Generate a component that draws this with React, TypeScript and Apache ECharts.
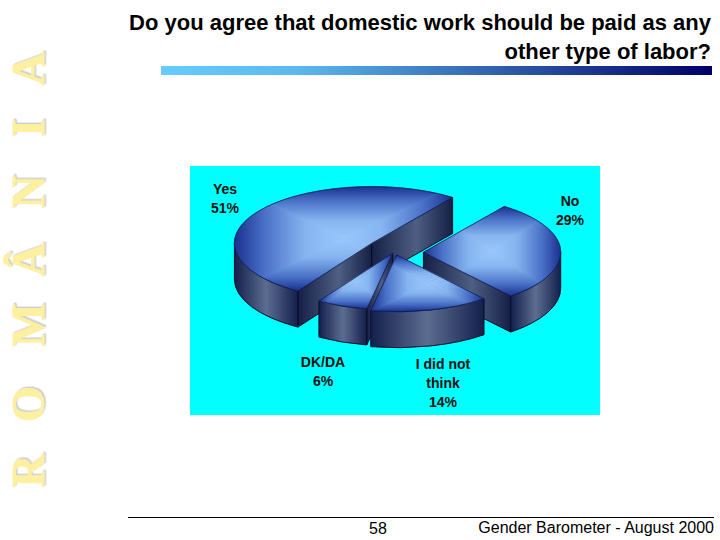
import React, { useEffect, useRef } from "react";
import * as echarts from "echarts";

const CATEGORIES = ["Yes", "No", "I did not\nthink", "DK/DA"];
const VALUES = [51, 29, 14, 6];
const TITLE_LINES = ["Do you agree that domestic work should be paid as any", "other type of labor?"];
const SIDE_LETTERS = ["R", "O", "M", "Â", "N", "I", "A"];
const PAGE_NUMBER = "58";
const FOOTER = "Gender Barometer - August 2000";

const DRAW_ORDER = [0, 1, 3, 2];
const SIDE_Y = [471, 404, 325, 260, 192, 128, 69];
const EXPLODE = [[0, 0], [51.7, 9], [25, 11.7], [21, 10]];
const LABEL_POS = [[225, 198.5], [570, 210.5], [443, 383], [323, 371.5]];
const CX = 371.7, CY = 243.3, RX = 137.3, RY = 56.7, DEPTH = 36, START = 212.5;
const TOTAL = VALUES.reduce((a, b) => a + b, 0);
const rad = (d: number) => (d * Math.PI) / 180;

const TOP_STOPS = [
  { offset: 0, color: "#9ac8fb" },
  { offset: 0.35, color: "#86b4f0" },
  { offset: 0.72, color: "#4a72c8" },
  { offset: 1, color: "#1a318f" },
];
const wallFill = () => new echarts.graphic.LinearGradient(0, 0, 1, 0, [
  { offset: 0, color: "#141f4c" },
  { offset: 0.5, color: "#5b6d90" },
  { offset: 1, color: "#141f4c" },
]);
const faceFill = () => new echarts.graphic.LinearGradient(0, 0, 1, 0, [
  { offset: 0, color: "#161f46" },
  { offset: 0.55, color: "#4d5f82" },
  { offset: 1, color: "#161f46" },
]);

type P = [number, number];
// Keep the part of a polygon on the inner side of the edge a -> b.
function clipEdge(poly: P[], a: P, b: P, inside: P): P[] {
  const side = (p: P) => (b[0] - a[0]) * (p[1] - a[1]) - (b[1] - a[1]) * (p[0] - a[0]);
  const sign = side(inside) >= 0 ? 1 : -1;
  const out: P[] = [];
  for (let i = 0; i < poly.length; i++) {
    const p = poly[i], q = poly[(i + 1) % poly.length];
    const sp = side(p) * sign, sq = side(q) * sign;
    if (sp >= 0) out.push(p);
    if (sp * sq < 0) {
      const t = sp / (sp - sq);
      out.push([p[0] + (q[0] - p[0]) * t, p[1] + (q[1] - p[1]) * t]);
    }
  }
  return out;
}

function renderItem(params: any, api: any) {
  const i = api.value(1);
  let before = 0;
  for (let k = 0; k < i; k++) before += VALUES[k];
  const a0 = START + (before / TOTAL) * 360;
  const a1 = a0 + (api.value(0) / TOTAL) * 360;
  const cx = CX + EXPLODE[i][0], cy = CY + EXPLODE[i][1];
  const px = (t: number) => cx + RX * Math.sin(rad(t));
  const py = (t: number) => cy - RY * Math.cos(rad(t));
  const n = (v: number) => v.toFixed(2);
  const children: any[] = [];
  const line = { stroke: "#070c28", lineWidth: 1 };

  const face = (t: number) => {
    const d = `M${n(cx)} ${n(cy)}L${n(px(t))} ${n(py(t))}L${n(px(t))} ${n(py(t) + DEPTH)}L${n(cx)} ${n(cy + DEPTH)}Z`;
    children.push({ type: "path", shape: { pathData: d }, style: { fill: faceFill(), ...line } });
  };
  if (Math.sin(rad(a0)) < 0) face(a0);
  if (Math.sin(rad(a1)) > 0) face(a1);

  for (const base of [0, 360]) {
    const w0 = Math.max(a0, base + 90), w1 = Math.min(a1, base + 270);
    if (w1 > w0) {
      const d = `M${n(px(w0))} ${n(py(w0))}A${RX} ${RY} 0 0 1 ${n(px(w1))} ${n(py(w1))}` +
        `L${n(px(w1))} ${n(py(w1) + DEPTH)}A${RX} ${RY} 0 0 0 ${n(px(w0))} ${n(py(w0) + DEPTH)}Z`;
      children.push({ type: "path", shape: { pathData: d }, style: { fill: wallFill(), ...line } });
    }
  }

  // Top of the slice: a rectangular "path" gradient, built as four triangles of its box.
  const outline: P[] = [[cx, cy]];
  for (let t = a0; t < a1; t += 1) outline.push([px(t), py(t)]);
  outline.push([px(a1), py(a1)]);
  const xs = outline.map((p) => p[0]), ys = outline.map((p) => p[1]);
  const l = Math.min(...xs), r = Math.max(...xs), u = Math.min(...ys), b = Math.max(...ys);
  const mid: P = [(l + r) / 2, (u + b) / 2];
  const corners: P[] = [[l - 1, u - 1], [r + 1, u - 1], [r + 1, b + 1], [l - 1, b + 1]];
  const edgeMid: P[] = [[mid[0], u], [r, mid[1]], [mid[0], b], [l, mid[1]]];
  corners.forEach((c, k) => {
    const c2 = corners[(k + 1) % 4];
    const inner: P = [(c[0] + c2[0] + mid[0]) / 3, (c[1] + c2[1] + mid[1]) / 3];
    let poly = clipEdge(outline, c, c2, inner);
    poly = clipEdge(poly, c2, mid, inner);
    poly = clipEdge(poly, mid, c, inner);
    if (poly.length < 3) return;
    const fill = new echarts.graphic.LinearGradient(mid[0], mid[1], edgeMid[k][0], edgeMid[k][1], TOP_STOPS, true);
    children.push({ type: "polygon", shape: { points: poly }, style: { fill, stroke: fill, lineWidth: 0.6 } });
  });
  const large = a1 - a0 > 180 ? 1 : 0;
  const top = `M${n(cx)} ${n(cy)}L${n(px(a0))} ${n(py(a0))}A${RX} ${RY} 0 ${large} 1 ${n(px(a1))} ${n(py(a1))}Z`;
  children.push({ type: "path", shape: { pathData: top }, style: { fill: "none", stroke: "#0b1440", lineWidth: 0.7 } });

  children.push({
    type: "text",
    x: LABEL_POS[i][0],
    y: LABEL_POS[i][1],
    style: {
      text: `${CATEGORIES[i]}\n${api.value(0)}%`,
      fill: "#111111",
      font: 'bold 14px "Liberation Sans", Arial, sans-serif',
      align: "center",
      verticalAlign: "middle",
      lineHeight: 19,
    },
  });
  return { type: "group", children };
}

export default function App() {
  const ref = useRef<HTMLDivElement>(null);
  useEffect(() => {
    const chart = echarts.init(ref.current!, undefined, { renderer: "svg" });
    const titleFont = 'bold 22px "Liberation Sans", Arial, sans-serif';
    chart.setOption({
      animation: false,
      backgroundColor: "#ffffff",
      graphic: [
        { type: "rect", z: -1, shape: { x: 190, y: 166, width: 410, height: 249 }, style: { fill: "#00ffff" } },
        { type: "rect", shape: { x: 161, y: 66, width: 551, height: 9 }, style: {
          fill: new echarts.graphic.LinearGradient(0, 0, 1, 0, [
            { offset: 0, color: "#66ccff" },
            { offset: 0.25, color: "#5cb8ee" },
            { offset: 1, color: "#000066" },
          ]),
        } },
        ...TITLE_LINES.map((t, i) => ({
          type: "text", x: 711, y: 22.5 + i * 29,
          style: { text: t, font: titleFont, fill: "#000000", align: "right", verticalAlign: "middle" },
        })),
        ...SIDE_LETTERS.map((t, i) => ({
          type: "text", x: 28, y: SIDE_Y[i], rotation: Math.PI / 2,
          style: {
            text: t, font: 'bold 46px "Liberation Serif", serif', fill: "#fdf0a0",
            stroke: "#fdf0a0", lineWidth: 0.8,
            align: "center", verticalAlign: "middle",
            textShadowColor: "#cfcfcf", textShadowOffsetX: 1.5, textShadowOffsetY: 1.5, textShadowBlur: 0.8,
          },
        })),
        { type: "line", shape: { x1: 128, y1: 517.5, x2: 714, y2: 517.5 }, style: { stroke: "#000000", lineWidth: 1 } },
        { type: "text", x: 378, y: 528, style: { text: PAGE_NUMBER, font: '16px "Liberation Sans", Arial, sans-serif', fill: "#000", align: "center", verticalAlign: "middle" } },
        { type: "text", x: 714, y: 527, style: { text: FOOTER, font: '16px "Liberation Sans", Arial, sans-serif', fill: "#000", align: "right", verticalAlign: "middle" } },
      ],
      series: [{
        type: "custom",
        coordinateSystem: "none",
        renderItem,
        data: DRAW_ORDER.map((k) => ({ name: CATEGORIES[k], value: [VALUES[k], k] })),
      }],
    });
    return () => chart.dispose();
  }, []);
  return <div ref={ref} style={{ position: "fixed", left: 0, top: 0, width: 720, height: 540 }} />;
}
